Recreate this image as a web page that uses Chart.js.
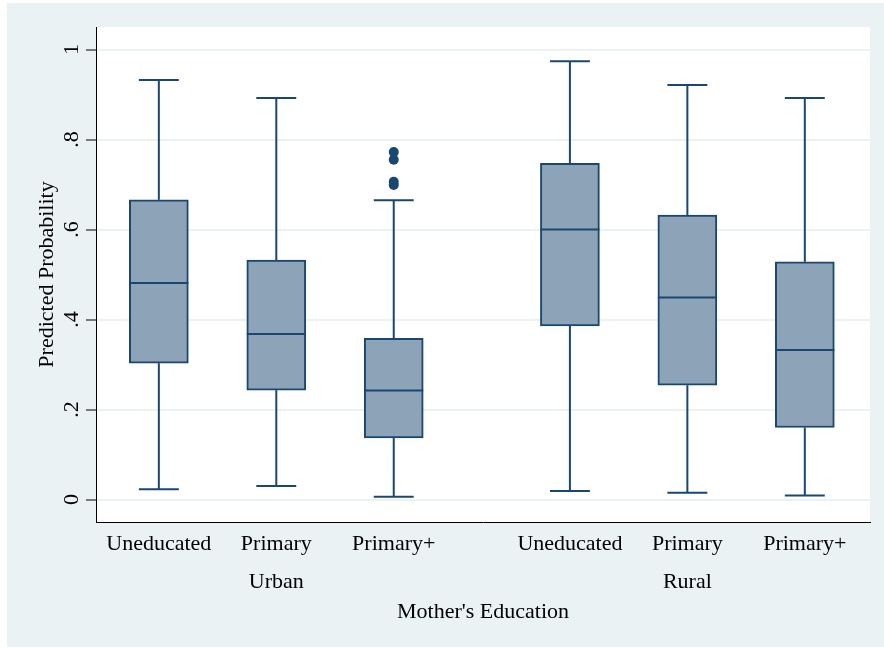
<!DOCTYPE html>
<html>
<head>
<meta charset="utf-8">
<script src="https://cdn.jsdelivr.net/npm/chart.js@4/dist/chart.umd.min.js"></script>
<style>
  html, body { margin: 0; padding: 0; background: #fff; }
  canvas { display: block; }
</style>
</head>
<body>
<canvas id="chart" width="884" height="648"></canvas>
<script>
// Box plot of predicted probability by mother's education, split by residence
const categories = ['Uneducated', 'Primary', 'Primary+', 'Uneducated', 'Primary', 'Primary+'];
const groups = ['Urban', 'Rural'];
const groupLabelAt = [1, 4];              // category index that carries each group label
const positions = [1, 2, 3, 4.5, 5.5, 6.5];

const lowerWhisker = [0.023, 0.030, 0.006, 0.019, 0.015, 0.009];
const q1           = [0.303, 0.243, 0.137, 0.386, 0.254, 0.160];
const median       = [0.481, 0.368, 0.242, 0.600, 0.449, 0.332];
const q3           = [0.666, 0.532, 0.358, 0.747, 0.632, 0.528];
const upperWhisker = [0.932, 0.892, 0.665, 0.974, 0.921, 0.892];

const outlierCategory = [2, 2, 2, 2];
const outlierValues   = [0.772, 0.755, 0.706, 0.699];

const yTickValues = [0, 0.2, 0.4, 0.6, 0.8, 1];
const yTickLabels = ['0', '.2', '.4', '.6', '.8', '1'];

const NAVY = '#1A476F';
const BOX_FILL = '#8DA3B8';
const REGION = '#EAF2F3';
const FONT = 'Liberation Serif, Times New Roman, serif';

const tickLabel = (i) => {
  const g = groupLabelAt.indexOf(i);
  return g >= 0 ? [categories[i], groups[g]] : categories[i];
};

const boxParts = {
  id: 'boxParts',
  beforeDraw(chart) {
    const { ctx, chartArea: a } = chart;
    ctx.save();
    ctx.fillStyle = '#ffffff';
    ctx.fillRect(0, 0, chart.width, chart.height);
    ctx.fillStyle = REGION;
    ctx.fillRect(7, 3, chart.width - 7, chart.height - 4);
    ctx.fillStyle = '#ffffff';
    ctx.fillRect(a.left, a.top, a.right - a.left, a.bottom - a.top);
    ctx.restore();
  },
  afterDatasetsDraw(chart) {
    const { ctx } = chart;
    const xs = chart.scales.x, ys = chart.scales.y;
    const boxes = chart.getDatasetMeta(0).data;
    const seg = (x1, y1, x2, y2) => { ctx.beginPath(); ctx.moveTo(x1, y1); ctx.lineTo(x2, y2); ctx.stroke(); };
    ctx.save();
    ctx.strokeStyle = NAVY;
    ctx.lineWidth = 2;
    positions.forEach((p, i) => {
      const cx = xs.getPixelForValue(p);
      const capHalf = xs.getPixelForValue(p + 0.17) - cx;
      const half = boxes[i].width / 2;
      const yUp = ys.getPixelForValue(upperWhisker[i]);
      const yLo = ys.getPixelForValue(lowerWhisker[i]);
      seg(cx, ys.getPixelForValue(q3[i]), cx, yUp);
      seg(cx - capHalf, yUp, cx + capHalf, yUp);
      seg(cx, ys.getPixelForValue(q1[i]), cx, yLo);
      seg(cx - capHalf, yLo, cx + capHalf, yLo);
      const ym = ys.getPixelForValue(median[i]);
      seg(cx - half, ym, cx + half, ym);
    });
    ctx.restore();
  }
};

new Chart(document.getElementById('chart'), {
  type: 'bar',
  data: {
    datasets: [
      {
        type: 'bar',
        data: positions.map((p, i) => ({ x: p, y: [q1[i], q3[i]] })),
        backgroundColor: BOX_FILL,
        borderColor: NAVY,
        borderWidth: 2,
        borderSkipped: false,
        barThickness: 59,
        grouped: false,
        order: 2
      },
      {
        type: 'scatter',
        data: outlierValues.map((v, i) => ({ x: positions[outlierCategory[i]], y: v })),
        backgroundColor: NAVY,
        borderColor: NAVY,
        pointRadius: 5,
        pointBorderWidth: 0,
        order: 1
      }
    ]
  },
  options: {
    responsive: false,
    animation: false,
    events: [],
    layout: { padding: { top: 27, right: 14, left: 0, bottom: 0 } },
    plugins: { legend: { display: false }, tooltip: { enabled: false } },
    scales: {
      x: {
        type: 'linear',
        offset: false,
        min: 0.465,
        max: 7.055,
        afterFit(scale) { scale.height = 126; },
        afterBuildTicks(scale) { scale.ticks = positions.map(v => ({ value: v })); },
        grid: { display: false, drawTicks: false },
        border: { display: true, color: '#000', width: 1 },
        ticks: {
          autoSkip: false,
          maxRotation: 0,
          minRotation: 0,
          padding: 3,
          color: '#000',
          font: { family: FONT, size: 22, lineHeight: 1.745 },
          callback: (v, i) => tickLabel(i)
        },
        title: {
          display: true,
          text: "Mother's Education",
          color: '#000',
          font: { family: FONT, size: 22, lineHeight: 1.2 },
          padding: { top: 0, bottom: 23 }
        }
      },
      y: {
        min: -0.05,
        max: 1.05,
        afterFit(scale) { scale.width = 96; },
        afterBuildTicks(scale) { scale.ticks = yTickValues.map(v => ({ value: v })); },
        grid: { color: REGION, lineWidth: 2, drawTicks: true, tickLength: 10, tickColor: '#000', tickWidth: 1 },
        border: { display: true, color: '#000', width: 1 },
        ticks: {
          minRotation: 90,
          maxRotation: 90,
          crossAlign: 'center',
          padding: 6,
          color: '#000',
          font: { family: FONT, size: 22 },
          callback: (v, i) => yTickLabels[i]
        },
        title: {
          display: true,
          text: 'Predicted Probability',
          color: '#000',
          font: { family: FONT, size: 22, lineHeight: 1.2 },
          padding: { top: 34, bottom: 0 }
        }
      }
    }
  },
  plugins: [boxParts]
});
</script>
</body>
</html>
